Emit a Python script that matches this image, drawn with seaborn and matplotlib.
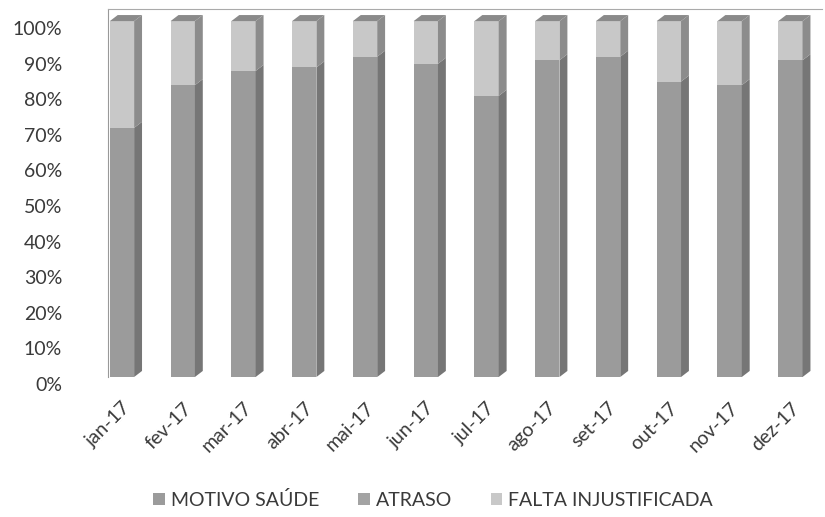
import numpy as np
import pandas as pd
import seaborn as sns
import matplotlib.pyplot as plt
import matplotlib.transforms as mtransforms
from matplotlib.patches import Polygon, Patch

# values (% of absences per month)
months = ['jan-17', 'fev-17', 'mar-17', 'abr-17', 'mai-17', 'jun-17',
          'jul-17', 'ago-17', 'set-17', 'out-17', 'nov-17', 'dez-17']
motivo_saude = [70, 82, 86, 87, 90, 88, 79, 89, 90, 83, 82, 89]
atraso = [0, 0, 0, 0, 0, 0, 0, 0, 0, 0, 0, 0]
falta_injustificada = [100 - s - a for s, a in zip(motivo_saude, atraso)]

series_names = ['MOTIVO SAÚDE', 'ATRASO', 'FALTA INJUSTIFICADA']
front_colors = ['#9b9b9b', '#a3a3a3', '#c8c8c8']
side_colors = ['#767676', '#7c7c7c', '#8c8c8c']

df = pd.DataFrame({'mes': months, 'saude': motivo_saude,
                   'atraso': atraso, 'falta': falta_injustificada})
df['lvl1'] = df['saude']
df['lvl2'] = df['saude'] + df['atraso']
df['lvl3'] = df['lvl2'] + df['falta']

sns.set_style('white')
plt.rcParams['font.family'] = ['Lato', 'DejaVu Sans']
txt_color = '#3a3a3a'

fig = plt.figure(figsize=(8.25, 5.17), dpi=100)
ax = fig.add_axes([108 / 825, 1 - 377 / 517, (822 - 108) / 825, (377 - 9) / 517])

bw = 0.4
# stacked front faces: draw the tallest first
sns.barplot(data=df, x='mes', y='lvl3', color=front_colors[2], width=bw,
            saturation=1, ax=ax, linewidth=0)
sns.barplot(data=df, x='mes', y='lvl2', color=front_colors[1], width=bw,
            saturation=1, ax=ax, linewidth=0)
sns.barplot(data=df, x='mes', y='lvl1', color=front_colors[0], width=bw,
            saturation=1, ax=ax, linewidth=0)

# 3D depth: side and top faces from the same values
dx, dy = 0.13, 1.7
for i, row in df.iterrows():
    xr = i + bw / 2
    xl = i - bw / 2
    bounds = [0, row['lvl1'], row['lvl2'], row['lvl3']]
    for k in range(3):
        y0, y1 = bounds[k], bounds[k + 1]
        if y1 <= y0:
            continue
        ax.add_patch(Polygon([(xr, y0), (xr + dx, y0 + dy), (xr + dx, y1 + dy), (xr, y1)],
                             closed=True, facecolor=side_colors[k], edgecolor='none'))
    top = bounds[3]
    ax.add_patch(Polygon([(xl, top), (xl + dx, top + dy), (xr + dx, top + dy), (xr, top)],
                         closed=True, facecolor='#8a8a8a', edgecolor='none'))

ax.set_xlim(-0.23, 11.52)
ax.set_ylim(0, 103.4)
ax.set_yticks(np.arange(0, 101, 10))
ax.set_yticklabels([f'{v}%' for v in range(0, 101, 10)], fontsize=14, color=txt_color)
ax.tick_params(axis='y', length=0, pad=33)
offset = mtransforms.ScaledTranslation(0, -5 / 72, fig.dpi_scale_trans)
for lab in ax.get_yticklabels():
    lab.set_transform(lab.get_transform() + offset)

ax.set_xticks(range(len(months)))
ax.set_xticklabels(months, rotation=45, ha='right', rotation_mode='anchor',
                   fontsize=14, color=txt_color)
ax.tick_params(axis='x', length=0, pad=16)
ax.set_xlabel('')
ax.set_ylabel('')

for s in ['right', 'bottom']:
    ax.spines[s].set_visible(False)
ax.spines['left'].set_color('#999999')
ax.spines['left'].set_linewidth(0.8)
ax.spines['top'].set_color('#aaaaaa')
ax.spines['top'].set_linestyle((0, (1.5, 1)))
ax.spines['top'].set_linewidth(0.8)

handles = [Patch(facecolor=c, edgecolor='none') for c in front_colors]
fig.legend(handles, series_names, loc='center', bbox_to_anchor=(0.525, 0.033),
           ncol=3, frameon=False, fontsize=14, handlelength=0.6, handleheight=0.6,
           handletextpad=0.3, columnspacing=2.0, labelcolor=txt_color)

fig.savefig('out.png', dpi=100, facecolor='white')
